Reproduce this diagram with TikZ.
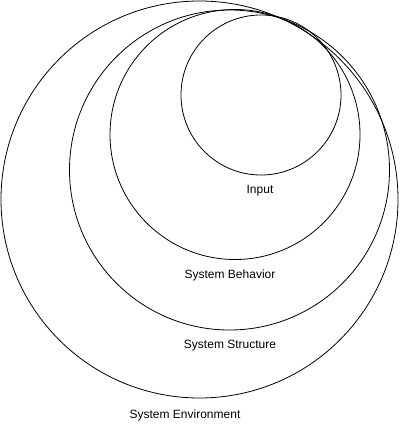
\documentclass[tikz,border=0pt]{standalone}
\usepackage{fontspec}
\setmainfont{Liberation Sans}
\usepackage{tikz}

\begin{document}
\begin{tikzpicture}[x=1pt, y=-1pt, line width=0.8pt,
    lbl/.style={font=\fontsize{12}{14}\selectfont, inner sep=0pt}]
    \useasboundingbox (0,0) rectangle (400,430);

    \draw (199.5,199.5) circle (198.5);
    \draw (229.5,170) circle (160);
    \draw (235,134.5) circle (125);
    \draw (261,95) circle (80);

    \node[lbl] (input) at (260,190.5) {Input};
    \node[lbl] (behavior) at (230,275.5) {System Behavior};
    \node[lbl] (structure) at (230,345.5) {System Structure};
    \node[lbl] (environment) at (185,415) {System Environment};
\end{tikzpicture}
\end{document}
